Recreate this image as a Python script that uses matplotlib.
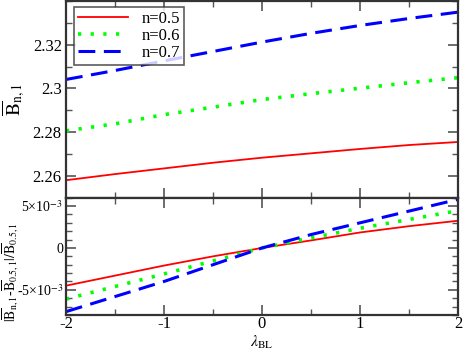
import numpy as np
import matplotlib
matplotlib.use("Agg")
import matplotlib.pyplot as plt
from matplotlib.ticker import MultipleLocator, FixedLocator, FixedFormatter

lam = [-2.0, -1.5, -1.0, -0.5, 0.0, 0.5, 1.0, 1.5, 2.0]
labels = ["n=0.5", "n=0.6", "n=0.7"]
b05 = [2.2580, 2.2608, 2.2634, 2.2660, 2.2683, 2.2703, 2.2723, 2.2741, 2.2755]
b06 = [2.2806, 2.2838, 2.2880, 2.2914, 2.2949, 2.2976, 2.3001, 2.3026, 2.3049]
b07 = [2.3041, 2.3082, 2.3126, 2.3169, 2.3212, 2.3252, 2.3288, 2.3320, 2.3349]
r05 = [-4.5e-3, -3.3e-3, -2.1e-3, -1.0e-3, 0.0, 0.9e-3, 1.85e-3, 2.6e-3, 3.25e-3]
r06 = [-6.1e-3, -4.6e-3, -3.1e-3, -1.55e-3, 0.0, 1.2e-3, 2.35e-3, 3.4e-3, 4.45e-3]
r07 = [-7.6e-3, -5.8e-3, -4.0e-3, -2.0e-3, 0.0, 1.6e-3, 3.0e-3, 4.4e-3, 5.8e-3]

plt.rcParams['font.family'] = ['Liberation Serif', 'DejaVu Serif']
plt.rcParams['mathtext.fontset'] = 'stix'

fig = plt.figure(figsize=(4.63, 3.51), dpi=100)
L, R = 66/463, 458/463
ax1 = fig.add_axes([L, 1-197.7/351, R-L, (197.7-1)/351])
ax2 = fig.add_axes([L, 1-315/351, R-L, (315-197.7)/351])

styles = [dict(color='#ff0000', lw=1.3, ls='-'),
          dict(color='#00ff00', lw=2.6, ls=(0, (0.9, 2.6))),
          dict(color='#0000ff', lw=2.2, ls=(0, (5.5, 2.8)))]

for ys, st, lb in zip([b05, b06, b07], styles, labels):
    ax1.plot(lam, ys, label=lb, **st)
for ys, st in zip([r05, r06, r07], styles):
    ax2.plot(lam, ys, **st)

for ax in (ax1, ax2):
    ax.set_xlim(-2, 2)
    ax.xaxis.set_major_locator(MultipleLocator(1))
    ax.xaxis.set_minor_locator(MultipleLocator(0.5))
    ax.tick_params(which='both', direction='in', top=True, right=True,
                   color='#555555', labelsize=12, pad=3)
    ax.tick_params(which='major', length=7, width=1.2)
    ax.tick_params(which='minor', length=4, width=1.0)
    for s in ax.spines.values():
        s.set_linewidth(1.6)
        s.set_color('#333333')

ax1.set_ylim(2.25, 2.34)
ax1.yaxis.set_major_locator(FixedLocator([2.26, 2.28, 2.30, 2.32]))
ax1.yaxis.set_major_formatter(FixedFormatter(["2.26", "2.28", "2.3", "2.32"]))
ax1.yaxis.set_minor_locator(MultipleLocator(0.01))
ax1.tick_params(labelbottom=False)
ax1.set_ylabel(r'$\overline{\mathrm{B}}_{\mathrm{n,1}}$', fontsize=14, labelpad=4)

ax2.set_ylim(-0.008, 0.006)
ax2.yaxis.set_major_locator(FixedLocator([-5e-3, 0, 5e-3]))
ax2.yaxis.set_major_formatter(FixedFormatter(['-5×10$^{-3}$', '0', '5×10$^{-3}$']))
ax2.yaxis.set_minor_locator(MultipleLocator(1e-3))
ax2.tick_params(axis='y', labelsize=10, pad=2)
ax2.tick_params(axis='x', pad=1)
ax2.set_xticks([-2, -1, 0, 1, 2])
ax2.set_xticklabels(['-2', '-1', '0', '1', '2'])
ax2.set_xlabel(r'$\lambda_{\mathrm{BL}}$', fontsize=11.5)
ax2.xaxis.set_label_coords(0.5, -0.16)
ax2.set_ylabel(r'$|\overline{\mathrm{B}}_{\mathrm{n,1}}$-$\overline{\mathrm{B}}_{\mathrm{0.5,1}}|/\overline{\mathrm{B}}_{\mathrm{0.5,1}}$',
               fontsize=10)
ax2.yaxis.set_label_coords(-0.114, 0.37)

leg = ax1.legend(loc='upper left', bbox_to_anchor=(0.02, 0.97), fontsize=12,
                 frameon=True, fancybox=False, edgecolor='#333333',
                 handlelength=3.0, handletextpad=0.8, borderpad=0.25, labelspacing=0.05,
                 borderaxespad=0)
leg.get_frame().set_linewidth(1.2)

fig.savefig('out.png', dpi=100)
